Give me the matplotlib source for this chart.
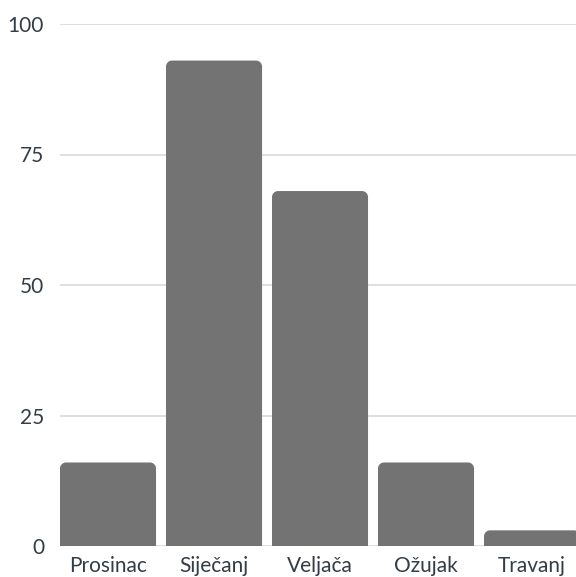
import matplotlib
matplotlib.use("Agg")
import matplotlib.pyplot as plt
from matplotlib.path import Path
from matplotlib.patches import PathPatch

categories = ["Prosinac", "Siječanj", "Veljača", "Ožujak", "Travanj"]
values = [16, 93, 68, 16, 3]
yticks = [0, 25, 50, 75, 100]

plt.rcParams['font.family'] = ['Lato', 'DejaVu Sans']

W, H = 576, 577
fig = plt.figure(figsize=(W / 100, H / 100), dpi=100)
left, right, top, bottom = 60, 576, 24, 546
ax = fig.add_axes([left / W, (H - bottom) / H, (right - left) / W, (bottom - top) / H])

x = list(range(len(categories)))
bars = ax.bar(x, values, width=0.906, color="#737373", zorder=2)
ax.set_xlim(-0.453, 4.415)
ax.set_ylim(0, 100)

# rounded top corners
px_per_x = (right - left) / (4.415 + 0.453)
px_per_y = (bottom - top) / 100
r_px = 6
for b in bars:
    x0, w, h = b.get_x(), b.get_width(), b.get_height()
    rx = r_px / px_per_x
    ry = min(r_px / px_per_y, h)
    x1 = x0 + w
    k = 0.5523
    verts = [
        (x0, 0), (x0, h - ry),
        (x0, h - ry + k * ry), (x0 + rx - k * rx, h), (x0 + rx, h),
        (x1 - rx, h),
        (x1 - rx + k * rx, h), (x1, h - ry + k * ry), (x1, h - ry),
        (x1, 0), (x0, 0),
    ]
    codes = [Path.MOVETO, Path.LINETO,
             Path.CURVE4, Path.CURVE4, Path.CURVE4,
             Path.LINETO,
             Path.CURVE4, Path.CURVE4, Path.CURVE4,
             Path.LINETO, Path.CLOSEPOLY]
    patch = PathPatch(Path(verts, codes), facecolor="#737373", edgecolor="none", zorder=2)
    ax.add_patch(patch)
    b.remove()

ax.set_yticks(yticks)
ax.set_xticks(x)
ax.set_xticklabels(categories)
ax.grid(axis="y", color="#d9d9d9", linewidth=1.2, zorder=0)
ax.set_axisbelow(True)
for s in ax.spines.values():
    s.set_visible(False)
ax.tick_params(axis="both", length=0, labelsize=15, labelcolor="#333d47")
ax.tick_params(axis="y", pad=11.5)
ax.tick_params(axis="x", pad=7)

fig.savefig("out.png", dpi=100)
